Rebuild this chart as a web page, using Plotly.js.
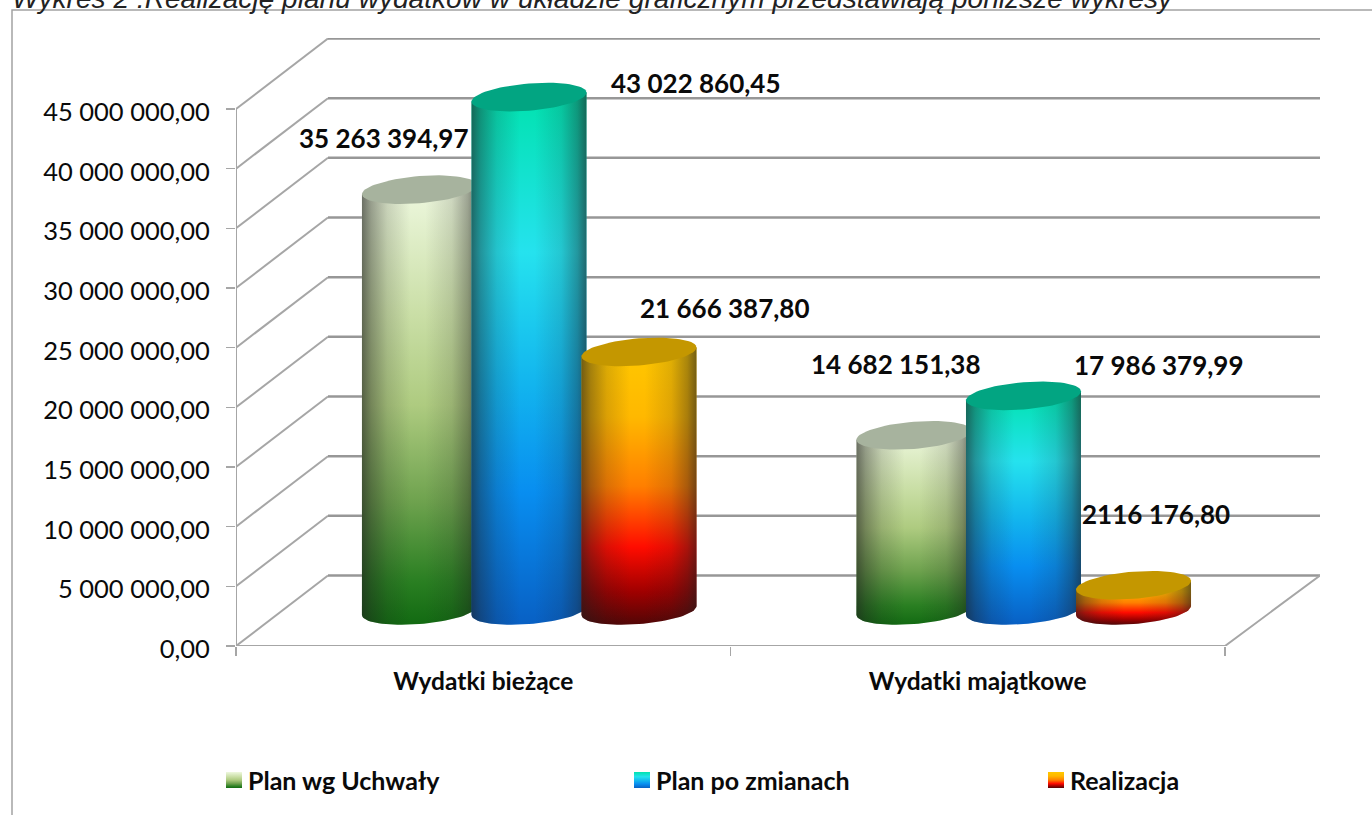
<!DOCTYPE html>
<html><head><meta charset="utf-8">
<script src="https://cdn.plot.ly/plotly-3.0.1.min.js"></script>
<style>html,body{margin:0;padding:0;background:#fff;overflow:hidden}</style>
</head><body><div id="chart" style="width:1372px;height:815px"></div>
<script>
// ---- data ----
const categories = ['Wydatki bieżące', 'Wydatki majątkowe'];
const seriesNames = ['Plan wg Uchwały', 'Plan po zmianach', 'Realizacja'];
const planWgUchwaly = [35263394.97, 14682151.38];
const planPoZmianach = [43022860.45, 17986379.99];
const realizacja = [21666387.80, 2116176.80];
const labelsUchwaly = ['35 263 394,97', '14 682 151,38'];
const labelsZmiany = ['43 022 860,45', '17 986 379,99'];
const labelsRealizacja = ['21 666 387,80', '2116 176,80'];
const yTickValues = [0, 5e6, 10e6, 15e6, 20e6, 25e6, 30e6, 35e6, 40e6, 45e6];
const yTickLabels = ['0,00', '5 000 000,00', '10 000 000,00', '15 000 000,00', '20 000 000,00',
  '25 000 000,00', '30 000 000,00', '35 000 000,00', '40 000 000,00', '45 000 000,00'];
const titleText = 'Wykres 2 :Realizację planu wydatków w układzie graficznym przedstawiają poniższe wykresy';

// ---- geometry & style ----
const W = 1372, H = 815;
const pxL = 236, pxR = 1320, pxBottom = 646, pxTop = 38, catPx = 494.5;
const valPerPx = 45e6 / 537;
const kx = 1 / catPx, ky = valPerPx;
const depthX = 92 * kx, depthY = 70.5 * ky;
const xMax = (pxR - pxL) * kx, yMax = (pxBottom - pxTop) * ky;
const barFront = 35.5 * ky;
const centers = [0.371, 0.5925, 0.815];
const rx = 57.5 * kx, ryPx = 13.6, shearPx = 4.5;
const FONT = 'Lato, sans-serif';
const INK = '#0a0a0a', AXIS = '#a6a6a6', WALL = '#979797';

// colour stops run from the bottom of a bar (0) to its top (1)
const stylesBySeries = [
  { cap: '#a7b39e', stops: [[0, '#126a12'], [0.1, '#2a7f22'], [0.28, '#6ea24e'], [0.5, '#aecb80'], [0.7, '#c9dea5'], [1, '#eef8df']] },
  { cap: '#02a582', stops: [[0, '#0860c4'], [0.25, '#088ef0'], [0.45, '#12b4ee'], [0.7, '#25e2ee'], [1, '#00e2ae']] },
  { cap: '#c49700', stops: [[0, '#520606'], [0.12, '#a00000'], [0.28, '#ff0c00'], [0.5, '#ff7f00'], [0.75, '#ffb800'], [1, '#ffc800']] }
];
const edgeShade = [[0, 'rgba(30,30,30,0.62)'], [0.08, 'rgba(30,30,30,0.40)'], [0.22, 'rgba(30,30,30,0.16)'],
  [0.42, 'rgba(30,30,30,0)'], [0.55, 'rgba(30,30,30,0)'], [0.78, 'rgba(30,30,30,0.14)'],
  [0.92, 'rgba(30,30,30,0.38)'], [1, 'rgba(30,30,30,0.62)']];

const allValues = [planWgUchwaly, planPoZmianach, realizacja];
const allLabels = [labelsUchwaly, labelsZmiany, labelsRealizacja];
const labelShift = [[[-35, 52], [-18, 71]], [[167, 14], [135.5, 31]], [[86, 44], [22, 71]]];

function ellipsePoint(cx, cy, t) {
  return [cx + rx * Math.cos(t), cy + (ryPx * Math.sin(t) + shearPx * Math.cos(t)) * ky];
}
function bodyPath(cx, top) {
  const xs = [], ys = [], steps = 40;
  for (let i = 0; i <= steps; i++) {
    const t = Math.PI + Math.PI * i / steps;
    const p = ellipsePoint(cx, barFront, t); xs.push(p[0]); ys.push(p[1]);
  }
  const r = ellipsePoint(cx, top, 0), l = ellipsePoint(cx, top, Math.PI);
  xs.push(r[0], l[0]); ys.push(r[1], l[1]);
  xs.push(xs[0]); ys.push(ys[0]);
  return { xs, ys };
}
function capPath(cx, top) {
  const xs = [], ys = [], steps = 72;
  for (let i = 0; i <= steps; i++) {
    const p = ellipsePoint(cx, top, 2 * Math.PI * i / steps); xs.push(p[0]); ys.push(p[1]);
  }
  return { xs, ys };
}
const base = { type: 'scatter', mode: 'lines', line: { width: 0 }, fill: 'toself', hoverinfo: 'skip', showlegend: false };
const traces = [], annotations = [];

categories.forEach((cat, c) => {
  allValues.forEach((vals, s) => {
    const cx = c + centers[s], top = vals[c] + barFront;
    const b = bodyPath(cx, top), cap = capPath(cx, top);
    traces.push(Object.assign({}, base, { x: b.xs, y: b.ys, name: seriesNames[s],
      fillgradient: { type: 'vertical', colorscale: stylesBySeries[s].stops } }));
    traces.push(Object.assign({}, base, { x: b.xs, y: b.ys,
      fillgradient: { type: 'horizontal', colorscale: edgeShade } }));
    traces.push(Object.assign({}, base, { x: cap.xs, y: cap.ys, fillcolor: stylesBySeries[s].cap }));
    annotations.push({ xref: 'x', yref: 'y', x: cx, y: top, xshift: labelShift[s][c][0], yshift: labelShift[s][c][1],
      text: '<b>' + allLabels[s][c] + '</b>', showarrow: false, xanchor: 'center', yanchor: 'middle',
      font: { family: FONT, size: 26, color: INK } });
  });
});

// legend built on a full-page axis pair
const legendX = [226, 634, 1048], legendTextX = [245.5, 653.5, 1067.5], swatch = 16, legendY = 780;
seriesNames.forEach((name, s) => {
  const x0 = legendX[s], x1 = x0 + swatch, y0 = legendY - swatch / 2, y1 = legendY + swatch / 2;
  traces.push(Object.assign({}, base, { xaxis: 'x2', yaxis: 'y2', name,
    x: [x0, x1, x1, x0, x0], y: [y0, y0, y1, y1, y0],
    fillgradient: { type: 'vertical', colorscale: stylesBySeries[s].stops } }));
  annotations.push({ xref: 'x2', yref: 'y2', x: legendTextX[s], y: legendY, text: '<b>' + name + '</b>', showarrow: false,
    xanchor: 'left', yanchor: 'middle', font: { family: FONT, size: 25, color: INK } });
});

annotations.push({ xref: 'paper', yref: 'paper', x: 10 / W, y: 1, yshift: 2, xanchor: 'left', yanchor: 'middle',
  showarrow: false, text: '<i>' + titleText + '</i>', font: { family: '"Liberation Sans", sans-serif', size: 28.1, color: '#222' } });

// walls
const shapes = [];
yTickValues.forEach(v => {
  shapes.push({ type: 'path', xref: 'x', yref: 'y', layer: 'below',
    path: `M 0 ${v} L ${depthX} ${v + depthY}`, line: { color: AXIS, width: 2 } });
  shapes.push({ type: 'line', xref: 'x', yref: 'y', layer: 'below', x0: depthX, x1: xMax, y0: v + depthY, y1: v + depthY,
    line: { color: WALL, width: 2.5 } });
});
const floorEnd = 2; // the x axis ends at the last category boundary
shapes.push({ type: 'line', xref: 'x', yref: 'y', layer: 'below', x0: 0, x1: 0, y0: 0, y1: 45e6, line: { color: AXIS, width: 2 } });
shapes.push({ type: 'path', xref: 'x', yref: 'y', layer: 'below',
  path: `M 0 0 L ${floorEnd} 0 L ${xMax} ${depthY}`, line: { color: AXIS, width: 2 } });
// outer chart frame
shapes.push({ type: 'path', xref: 'paper', yref: 'paper', layer: 'below',
  path: `M ${12 / W} 0 L ${12 / W} ${1 - 10 / H} L 1 ${1 - 10 / H}`, line: { color: '#a3a3a3', width: 1.5 } });

const layout = {
  width: W, height: H, margin: { l: 0, r: 0, t: 0, b: 0 },
  paper_bgcolor: '#fff', plot_bgcolor: 'rgba(0,0,0,0)', showlegend: false,
  xaxis: {
    domain: [pxL / W, pxR / W], range: [0, xMax], showgrid: false, zeroline: false, showline: false,
    tickmode: 'array', tickvals: categories.map((_, i) => i + 0.5),
    ticktext: categories.map(t => '<b>' + t + '</b>'), ticks: '', ticklabelstandoff: 18,
    tickfont: { family: FONT, size: 24.5, color: INK },
    minor: { tickmode: 'array', tickvals: [0, 1, 2], ticks: 'outside', ticklen: 9, tickwidth: 1.5, tickcolor: AXIS, showgrid: false }
  },
  yaxis: {
    domain: [(H - pxBottom) / H, (H - pxTop) / H], range: [0, yMax], showgrid: false, zeroline: false, showline: false,
    tickmode: 'array', tickvals: yTickValues, ticktext: yTickLabels,
    ticks: 'outside', ticklen: 9, tickwidth: 1.5, tickcolor: AXIS, ticklabelstandoff: 11, ticklabelshift: 3,
    tickfont: { family: FONT, size: 25.5, color: INK }
  },
  xaxis2: { domain: [0, 1], range: [0, W], visible: false, anchor: 'y2', fixedrange: true },
  yaxis2: { domain: [0, 1], range: [H, 0], visible: false, anchor: 'x2', fixedrange: true },
  shapes, annotations
};
Plotly.newPlot('chart', traces, layout, { displayModeBar: false, staticPlot: true });
</script></body></html>
